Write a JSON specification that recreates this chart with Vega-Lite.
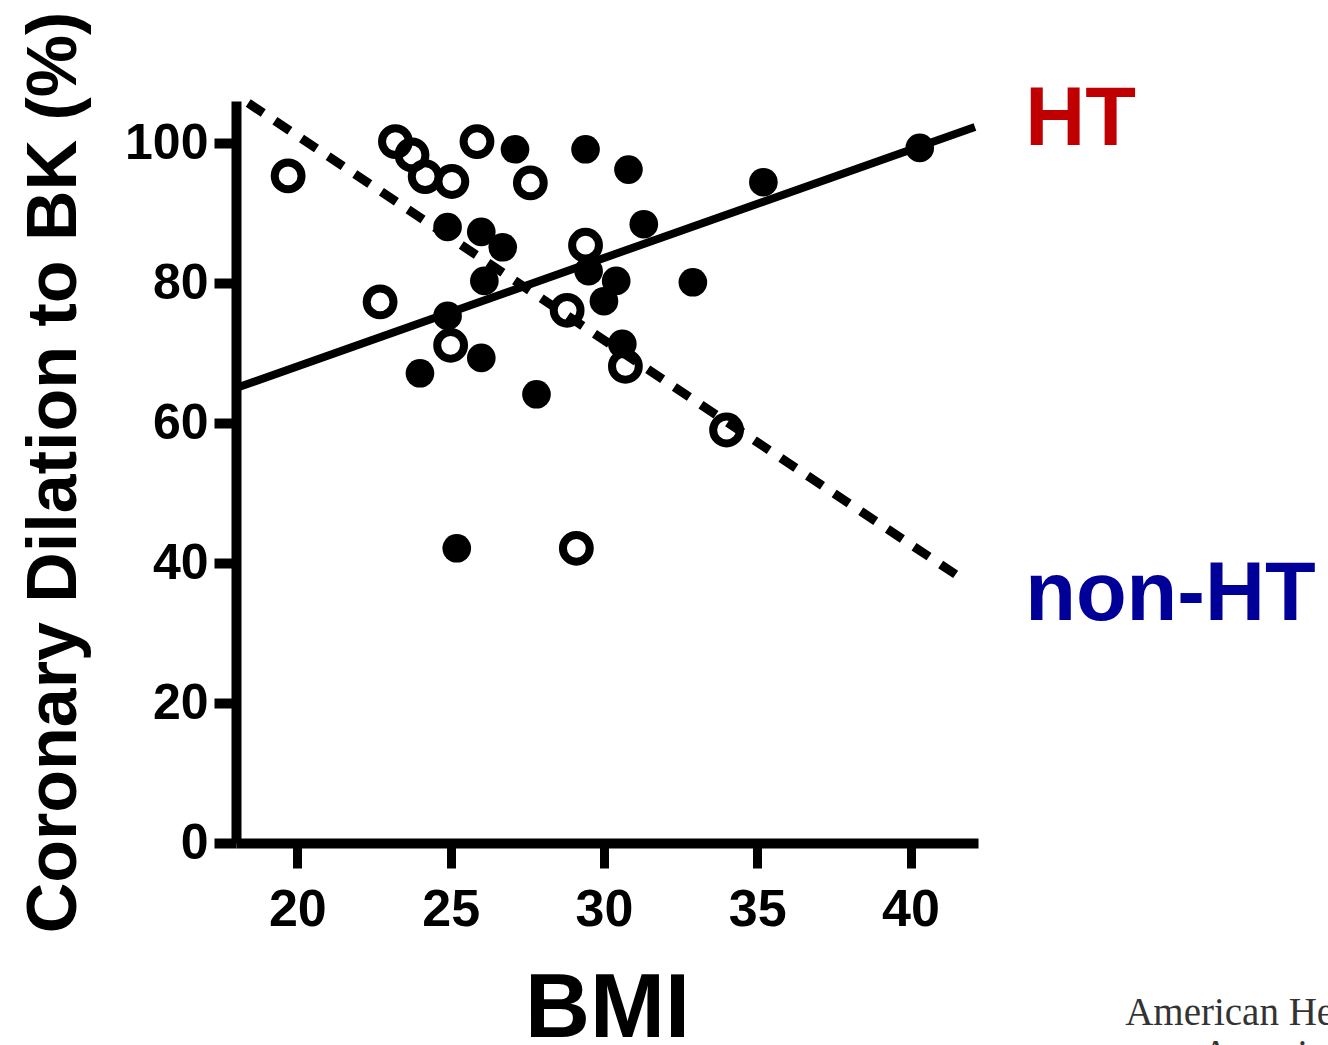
{
  "$schema": "https://vega.github.io/schema/vega-lite/v6.json",
  "autosize": {"type": "none"},
  "width": 742,
  "height": 742,
  "padding": {"left": 236, "top": 101, "right": 350, "bottom": 202},
  "background": "white",
  "config": {"view": {"stroke": null}, "axis": {"grid": false}},
  "datasets": {
    "points": [
      {"group": "HT", "bmi": 27.1, "dilation": 99.1},
      {"group": "HT", "bmi": 29.4, "dilation": 99.1},
      {"group": "HT", "bmi": 30.8, "dilation": 96.2},
      {"group": "HT", "bmi": 31.3, "dilation": 88.4},
      {"group": "HT", "bmi": 24.9, "dilation": 88.0},
      {"group": "HT", "bmi": 26.0, "dilation": 87.3},
      {"group": "HT", "bmi": 26.7, "dilation": 85.1},
      {"group": "HT", "bmi": 26.1, "dilation": 80.3},
      {"group": "HT", "bmi": 29.5, "dilation": 81.7},
      {"group": "HT", "bmi": 30.4, "dilation": 80.3},
      {"group": "HT", "bmi": 30.0, "dilation": 77.4},
      {"group": "HT", "bmi": 24.9, "dilation": 75.3},
      {"group": "HT", "bmi": 30.6, "dilation": 71.3},
      {"group": "HT", "bmi": 24.0, "dilation": 67.1},
      {"group": "HT", "bmi": 26.0, "dilation": 69.3},
      {"group": "HT", "bmi": 27.8, "dilation": 64.1},
      {"group": "HT", "bmi": 32.9, "dilation": 80.1},
      {"group": "HT", "bmi": 35.2, "dilation": 94.4},
      {"group": "HT", "bmi": 40.3, "dilation": 99.3},
      {"group": "HT", "bmi": 25.2, "dilation": 42.1},
      {"group": "non-HT", "bmi": 19.7, "dilation": 95.3},
      {"group": "non-HT", "bmi": 23.2, "dilation": 100.2},
      {"group": "non-HT", "bmi": 23.74, "dilation": 98.3},
      {"group": "non-HT", "bmi": 24.17, "dilation": 95.2},
      {"group": "non-HT", "bmi": 25.04, "dilation": 94.5},
      {"group": "non-HT", "bmi": 25.86, "dilation": 100.2},
      {"group": "non-HT", "bmi": 27.6, "dilation": 94.3},
      {"group": "non-HT", "bmi": 22.7, "dilation": 77.3},
      {"group": "non-HT", "bmi": 25.0, "dilation": 71.1},
      {"group": "non-HT", "bmi": 29.4, "dilation": 85.4},
      {"group": "non-HT", "bmi": 28.8, "dilation": 76.1},
      {"group": "non-HT", "bmi": 30.7, "dilation": 68.1},
      {"group": "non-HT", "bmi": 34.0, "dilation": 59.0},
      {"group": "non-HT", "bmi": 29.1, "dilation": 42.1}
    ],
    "fits": [
      {"group": "HT", "bmi": 18.0, "dilation": 65.0},
      {"group": "HT", "bmi": 42.1, "dilation": 102.3},
      {"group": "non-HT", "bmi": 18.4, "dilation": 105.7},
      {"group": "non-HT", "bmi": 41.6, "dilation": 38.0}
    ],
    "notes": [
      {"label": "HT", "bmi": 43.74, "dilation": 99.7},
      {"label": "non-HT", "bmi": 43.74, "dilation": 31.9},
      {"label": "American Heart", "bmi": 47.0, "dilation": -26.0},
      {"label": "Association", "bmi": 49.5, "dilation": -32.0}
    ]
  },
  "encoding": {
    "x": {
      "field": "bmi", "type": "quantitative",
      "scale": {"domain": [18, 42.2], "nice": false, "zero": false},
      "axis": {
        "title": "BMI", "values": [20, 25, 30, 35, 40],
        "tickSize": 25, "tickWidth": 9, "tickColor": "black",
        "domainColor": "black", "domainWidth": 10,
        "labelFont": "Liberation Sans", "labelFontWeight": "bold", "labelFontSize": 52,
        "labelColor": "black", "labelPadding": 16, "labelFlush": false, "labelOverlap": false,
        "titleFont": "Liberation Sans", "titleFontWeight": "bold", "titleFontSize": 90,
        "titleColor": "black", "titlePadding": 30
      }
    },
    "y": {
      "field": "dilation", "type": "quantitative",
      "scale": {"domain": [0, 106], "nice": false},
      "axis": {
        "title": "Coronary Dilation to BK (%)", "values": [0, 20, 40, 60, 80, 100],
        "tickSize": 22, "tickWidth": 10, "tickColor": "black",
        "domainColor": "black", "domainWidth": 10,
        "labelFont": "Liberation Sans", "labelFontWeight": "bold", "labelFontSize": 50,
        "labelColor": "black", "labelPadding": 6, "labelFlush": false, "labelOverlap": false,
        "titleFont": "Liberation Sans", "titleFontWeight": "bold", "titleFontSize": 70,
        "titleColor": "black", "titlePadding": 34
      }
    }
  },
  "layer": [
    {
      "data": {"name": "fits"},
      "transform": [{"filter": "datum.group === 'HT'"}],
      "mark": {"type": "line", "color": "black", "strokeWidth": 8},
      "encoding": {}
    },
    {
      "data": {"name": "fits"},
      "transform": [{"filter": "datum.group === 'non-HT'"}],
      "mark": {"type": "line", "color": "black", "strokeWidth": 9, "strokeDash": [18, 14]},
      "encoding": {}
    },
    {
      "data": {"name": "points"},
      "transform": [{"filter": "datum.group === 'HT'"}],
      "mark": {"type": "point", "shape": "circle", "filled": true, "color": "black", "size": 820, "opacity": 1},
      "encoding": {}
    },
    {
      "data": {"name": "points"},
      "transform": [{"filter": "datum.group === 'non-HT'"}],
      "mark": {"type": "point", "shape": "circle", "filled": false, "stroke": "black", "strokeWidth": 8, "size": 720, "opacity": 1},
      "encoding": {}
    },
    {
      "data": {"name": "notes"},
      "transform": [{"filter": "datum.label === 'HT'"}],
      "mark": {"type": "text", "align": "left", "baseline": "alphabetic", "font": "Liberation Sans", "fontWeight": "bold", "fontSize": 83, "color": "#C00000"},
      "encoding": {"text": {"field": "label"}}
    },
    {
      "data": {"name": "notes"},
      "transform": [{"filter": "datum.label === 'non-HT'"}],
      "mark": {"type": "text", "align": "left", "baseline": "alphabetic", "font": "Liberation Sans", "fontWeight": "bold", "fontSize": 83, "color": "#000099"},
      "encoding": {"text": {"field": "label"}}
    },
    {
      "data": {"name": "notes"},
      "transform": [{"filter": "datum.label === 'American Heart' || datum.label === 'Association'"}],
      "mark": {"type": "text", "align": "left", "baseline": "alphabetic", "font": "Liberation Serif", "fontSize": 39, "color": "#333333"},
      "encoding": {"text": {"field": "label"}}
    }
  ]
}
